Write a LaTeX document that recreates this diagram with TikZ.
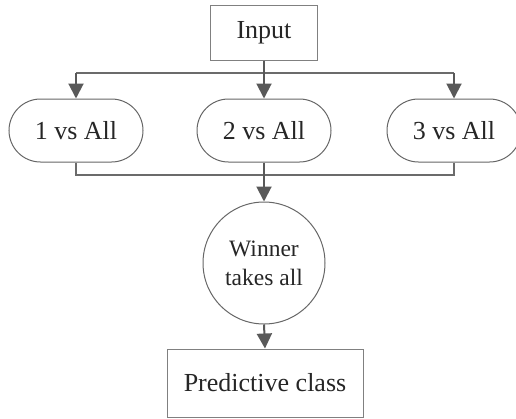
\documentclass[tikz,border=0pt]{standalone}
\usepackage{fontspec}
\setmainfont{Liberation Serif}
\usetikzlibrary{arrows.meta}
\begin{document}
\begin{tikzpicture}[x=1pt,y=-1pt,
  every node/.style={text=black!85, inner sep=0pt},
  boxnode/.style={draw=black!50, line width=1pt, font=\fontsize{26}{30}\selectfont},
  pill/.style={draw=black!60, line width=1pt, rounded corners=31.5pt,
    minimum width=134pt, minimum height=63pt, font=\fontsize{26}{30}\selectfont},
  roundnode/.style={circle, draw=black!60, line width=1pt, minimum size=122pt,
    align=center, font=\fontsize{23.5}{29}\selectfont},
  wire/.style={draw=black!58, line width=1.3pt},
  arr/.style={draw=black!65, line width=2pt, -{Triangle[width=15pt,length=15pt]}}
]
\useasboundingbox (0,0) rectangle (516,418);

\node[boxnode, minimum width=107pt, minimum height=55pt] (in) at (264,32.5) {Input};
\node[pill] (p1) at (76,130.5) {1 vs All};
\node[pill] (p2) at (264,130.5) {2 vs All};
\node[pill] (p3) at (454,130.5) {3 vs All};
\node[roundnode] (w) at (264,263) {Winner\\takes all};
\node[boxnode, minimum width=196pt, minimum height=68pt] (out) at (265,383) {Predictive class};

\coordinate (split) at (264,73);
\coordinate (merge) at (264,175);

% fan-out from the input
\draw[wire] (split -| p1.north) -- (split -| p3.north);
\draw[arr] (in.south) -- (p2.north);
\draw[arr] (split -| p1.north) -- (p1.north);
\draw[arr] (split -| p3.north) -- (p3.north);

% merge into the decision node
\draw[wire] (p1.south) -- (merge -| p1.south) -- (merge -| p3.south) -- (p3.south);
\draw[arr] (p2.south) -- (w.north);
\draw[arr] (w.south) -- (out.north);
\end{tikzpicture}
\end{document}
